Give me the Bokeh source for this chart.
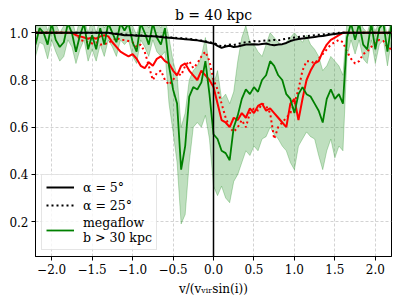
import numpy as np
from bokeh.plotting import figure
from bokeh.models import FixedTicker, Span, Legend, LegendItem, ColumnDataSource
from bokeh.embed import file_html
from bokeh.resources import INLINE

# velocity grid v/(v_vir sin i)
v = np.round(np.linspace(-2.2, 2.2, 89), 2)

black_a5 = [1.0] * 19 + [
    0.997, 0.995, 0.993, 0.99, 0.99, 0.99, 0.988, 0.988, 0.986, 0.985,
    0.985, 0.984, 0.982, 0.98, 0.979, 0.978, 0.976, 0.975, 0.973, 0.972,
    0.97, 0.968, 0.965, 0.962, 0.958,
    0.955, 0.945, 0.936, 0.942, 0.945, 0.94, 0.942, 0.946, 0.95, 0.95,
    0.952, 0.95, 0.953, 0.955, 0.95, 0.947, 0.95, 0.952, 0.957, 0.965,
    0.97, 0.974, 0.976, 0.978, 0.98, 0.982, 0.985, 0.986, 0.99, 0.993,
    0.995, 0.997] + [1.0] * 13

black_a25 = [1.0] * 19 + [
    0.998, 0.996, 0.995, 0.993, 0.992, 0.99, 0.99, 0.989, 0.988, 0.987,
    0.986, 0.985, 0.984, 0.982, 0.981, 0.98, 0.978, 0.977, 0.976, 0.974,
    0.972, 0.97, 0.967, 0.964, 0.96,
    0.957, 0.95, 0.942, 0.946, 0.95, 0.948, 0.953, 0.957, 0.96, 0.962,
    0.965, 0.963, 0.966, 0.968, 0.967, 0.97, 0.968, 0.972, 0.975, 0.978,
    0.98, 0.982, 0.985, 0.986, 0.988, 0.99, 0.992, 0.993, 0.995, 0.997,
    0.998, 1.0] + [1.0] * 13

red_a5 = [1.0] * 10 + [
    0.99, 0.985, 0.98, 0.975, 0.98, 0.975, 0.985, 0.99, 0.985, 0.96,
    0.94, 0.92, 0.91, 0.90, 0.91, 0.89, 0.86, 0.85, 0.875, 0.86,
    0.89, 0.90, 0.88, 0.87, 0.84, 0.82, 0.86, 0.87, 0.84, 0.82,
    0.80, 0.84, 0.82, 0.80, 0.77, 0.70, 0.63, 0.62, 0.60, 0.64,
    0.63, 0.66, 0.64, 0.68, 0.66, 0.69, 0.70, 0.67, 0.68, 0.66,
    0.64, 0.62, 0.60, 0.70, 0.72, 0.63, 0.72, 0.80, 0.84, 0.87,
    0.88, 0.92, 0.95, 0.97, 0.98, 0.99, 1.0, 1.0, 1.0, 1.0] + [1.0] * 9

red_a25 = [1.0] * 11 + [
    0.97, 0.965, 0.96, 0.955, 0.96, 0.95, 0.95, 0.96, 0.965,
    0.98, 0.97, 0.97, 0.965, 0.96, 0.94, 0.95, 0.92, 0.86, 0.80,
    0.83, 0.84, 0.80, 0.78, 0.80, 0.83, 0.82, 0.86, 0.88, 0.85,
    0.87, 0.90, 0.92, 0.88, 0.80, 0.76, 0.70, 0.64, 0.60, 0.58,
    0.60, 0.63, 0.60, 0.66, 0.68, 0.67, 0.70, 0.69, 0.66, 0.55,
    0.60, 0.62, 0.64, 0.66, 0.70, 0.76, 0.84, 0.88, 0.88, 0.87,
    0.89, 0.91, 0.93, 0.95, 0.96, 0.97, 0.96, 0.92, 0.89, 0.87,
    0.88, 0.91, 0.92, 0.94, 0.96, 0.97, 0.965, 0.94, 0.93]

megaflow = [
    0.95, 1.02, 1.0, 0.95, 1.04, 0.97, 0.94, 0.96, 1.04, 1.0,
    0.92, 0.99, 1.04, 0.93, 0.99, 0.93, 1.02, 0.95, 1.04, 1.0,
    0.96, 1.04, 1.01, 1.04, 0.96, 0.92, 1.04, 1.0, 0.95, 1.04,
    0.98, 0.95, 1.02, 0.86, 0.76, 0.70, 0.42, 0.52, 0.73, 0.77,
    0.76, 0.79, 0.88, 0.74, 0.57, 0.55, 0.50, 0.49, 0.46, 0.60,
    0.65, 0.72, 0.76, 0.74, 0.77, 0.75, 0.80, 0.82, 0.88, 0.86,
    0.82, 0.80, 0.74, 0.72, 0.66, 0.74, 0.77, 0.74, 0.73, 0.70,
    0.67, 0.62, 0.72, 0.76, 0.72, 0.74, 0.70, 0.98, 1.04, 0.97,
    1.04, 0.95, 0.93, 1.04, 0.93, 1.02, 1.04, 0.92, 1.04]

megaflow_lo = [
    0.9, 0.96, 0.95, 0.89, 0.97, 0.92, 0.88, 0.9, 0.97, 0.94,
    0.87, 0.93, 0.97, 0.88, 0.93, 0.88, 0.95, 0.9, 0.97, 0.94,
    0.9, 0.97, 0.95, 0.97, 0.9, 0.87, 0.97, 0.94, 0.9, 0.97,
    0.92, 0.9, 0.92, 0.7, 0.58, 0.45, 0.19, 0.23, 0.45, 0.6,
    0.62, 0.6, 0.65, 0.55, 0.35, 0.31, 0.35, 0.3, 0.28, 0.37,
    0.4, 0.45, 0.5, 0.48, 0.52, 0.5, 0.55, 0.56, 0.6, 0.57,
    0.55, 0.52, 0.5, 0.45, 0.42, 0.52, 0.55, 0.58, 0.56, 0.55,
    0.48, 0.42, 0.5, 0.55, 0.47, 0.52, 0.5, 0.9, 0.97, 0.91,
    0.97, 0.89, 0.87, 0.97, 0.87, 0.95, 0.97, 0.86, 0.97]

megaflow_hi = [
    1.02, 1.06, 1.06, 1.01, 1.06, 1.04, 1.0, 1.03, 1.06, 1.06,
    0.99, 1.06, 1.06, 1.0, 1.06, 1.0, 1.06, 1.02, 1.06, 1.06,
    1.03, 1.06, 1.06, 1.06, 1.03, 0.99, 1.06, 1.06, 1.02, 1.06,
    1.05, 1.02, 1.06, 0.98, 0.88, 0.82, 0.6, 0.66, 0.8, 0.84,
    0.86, 0.9, 0.98, 0.85, 0.78, 0.84, 0.72, 0.74, 0.7, 0.75,
    0.88, 0.98, 1.03, 0.96, 0.95, 0.92, 0.9, 0.95, 1.0, 0.98,
    0.96, 0.95, 0.96, 0.98, 1.0, 0.98, 0.96, 0.99, 0.95, 0.93,
    0.9, 0.84, 0.86, 0.9, 0.88, 0.86, 0.82, 1.05, 1.06, 1.04,
    1.06, 1.02, 1.0, 1.06, 1.0, 1.06, 1.06, 0.99, 1.06]

x_ticks = [-2.0, -1.5, -1.0, -0.5, 0.0, 0.5, 1.0, 1.5, 2.0]
x_tick_labels = ["\u22122.0", "\u22121.5", "\u22121.0", "\u22120.5", "0.0", "0.5", "1.0", "1.5", "2.0"]
y_ticks = [0.2, 0.4, 0.6, 0.8, 1.0]
y_tick_labels = ["0.2", "0.4", "0.6", "0.8", "1.0"]

src = ColumnDataSource(dict(v=v, black_a5=black_a5, black_a25=black_a25,
                            red_a5=red_a5, red_a25=red_a25, mf=megaflow,
                            mf_lo=megaflow_lo, mf_hi=megaflow_hi))

FONT = "DejaVu Serif"

p = figure(width=399, height=301, x_range=(-2.2, 2.2), y_range=(0.052, 1.031),
           output_backend="svg", toolbar_location=None,
           min_border_left=35, min_border_right=8, min_border_top=25, min_border_bottom=45)

p.title.text = "b = 40 kpc"
p.title.align = "center"
p.title.text_font = FONT
p.title.text_font_size = "14px"
p.title.text_font_style = "normal"
p.title.text_color = "black"
p.title.standoff = 5
p.title.offset = 0

p.varea(x="v", y1="mf_lo", y2="mf_hi", source=src, fill_color="green", fill_alpha=0.25)
p.line(x="v", y="mf_lo", source=src, line_color="green", line_alpha=0.25, line_width=1)
p.line(x="v", y="mf_hi", source=src, line_color="green", line_alpha=0.25, line_width=1)

p.line(x="v", y="red_a25", source=src, line_color="red", line_width=2, line_dash="2 3")
p.line(x="v", y="red_a5", source=src, line_color="red", line_width=2)
r_mf = p.line(x="v", y="mf", source=src, line_color="green", line_width=1.8)
r_b25 = p.line(x="v", y="black_a25", source=src, line_color="black", line_width=2, line_dash="2 3")
r_b5 = p.line(x="v", y="black_a5", source=src, line_color="black", line_width=2)

p.add_layout(Span(location=0, dimension="height", line_color="black", line_width=1.5))

for ax in (p.xaxis[0], p.yaxis[0]):
    ax.major_label_text_font = FONT
    ax.major_label_text_font_size = "12px"
    ax.major_label_text_color = "black"
    ax.major_tick_out = 4
    ax.major_tick_in = 0
    ax.minor_tick_out = 0
    ax.minor_tick_in = 0
    ax.axis_line_color = "black"
    ax.major_tick_line_color = "black"
    ax.major_label_standoff = 3

p.xaxis.ticker = FixedTicker(ticks=x_ticks)
p.xaxis.major_label_overrides = dict(zip(x_ticks, x_tick_labels))
p.yaxis.ticker = FixedTicker(ticks=y_ticks)
p.yaxis.major_label_overrides = dict(zip(y_ticks, y_tick_labels))

p.xaxis.axis_label = "v/(v\u1d65\u1d62\u1d63sin(i))"
p.xaxis.axis_label_text_font = FONT
p.xaxis.axis_label_text_font_size = "12px"
p.xaxis.axis_label_text_font_style = "normal"
p.xaxis.axis_label_text_color = "black"
p.xaxis.axis_label_standoff = 5

p.outline_line_color = "black"
p.outline_line_width = 1
p.outline_line_alpha = 1

for g in (p.xgrid[0], p.ygrid[0]):
    g.grid_line_color = "#c8c8c8"
    g.grid_line_dash = "3 2"
    g.grid_line_width = 0.8

legend = Legend(items=[
    LegendItem(label="\u03b1 = 5\u00b0", renderers=[r_b5]),
    LegendItem(label="\u03b1 = 25\u00b0", renderers=[r_b25]),
    LegendItem(label="megaflow\nb > 30 kpc", renderers=[r_mf]),
], location="bottom_left")
legend.label_text_font = FONT
legend.label_text_font_size = "12.5px"
legend.label_text_color = "black"
legend.border_line_color = "#cccccc"
legend.background_fill_alpha = 0.8
legend.margin = 6
legend.padding = 4
legend.spacing = 2
legend.glyph_width = 28
legend.glyph_height = 16
legend.label_standoff = 9
p.add_layout(legend)

open("out.html", "w").write(file_html(p, INLINE))
